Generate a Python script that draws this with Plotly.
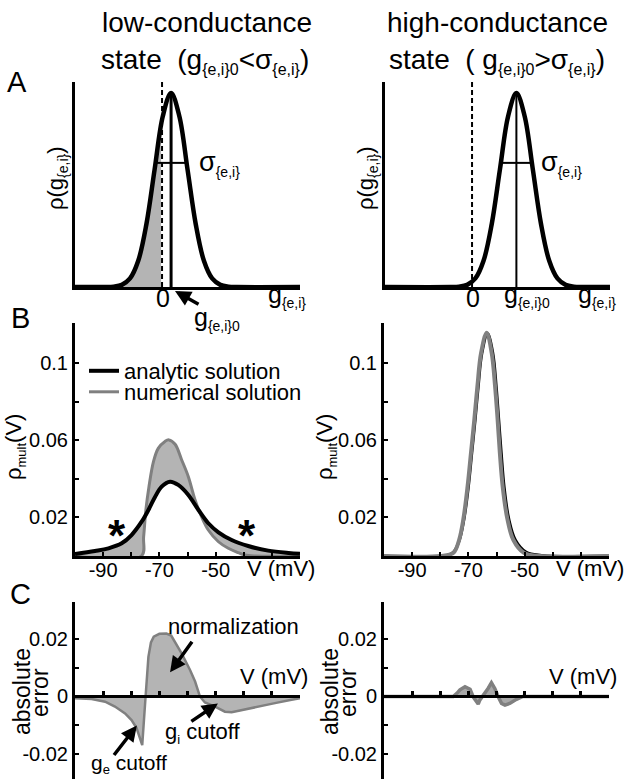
import plotly.graph_objects as go

FONT = "Liberation Sans, Arial, Helvetica, sans-serif"
W, H = 625, 779
GRAY_LINE = "#808080"
GRAY_FILL = "#b4b4b4"

# ---------------- Panel A : schematic conductance distributions ----------------
gA_left = [-5.3, -3.45, -2.95, -2.45, -1.95, -1.45, -0.95, -0.45, 0.05, 0.55,
           1.05, 1.55, 2.05, 2.55, 3.05, 3.55, 4.05, 4.55, 8.4]
gA_right = [-5.3, -1.3, -0.8, -0.3, 0.2, 0.7, 1.2, 1.7, 2.2, 2.7,
            3.2, 3.7, 4.2, 4.7, 5.2, 5.7, 6.2, 6.7, 8.4]
rhoA = [0.0, 0.0, 0.002, 0.011, 0.044, 0.135, 0.325, 0.607, 0.882, 1.0,
        0.882, 0.607, 0.325, 0.135, 0.044, 0.011, 0.002, 0.0, 0.0]
gA_fill = [-5.3, -3.45, -2.95, -2.45, -1.95, -1.45, -0.95, -0.45, 0.0]
rhoA_fill = [0.0, 0.0, 0.002, 0.011, 0.044, 0.135, 0.325, 0.607, 0.86]
g0_left = 0.55
g0_right = 2.7
sigma_half = 0.95
sigma_bar_h = 0.64
A_xrange = [-5.3, 8.4]
A_yrange = [0, 1.057]

# ---------------- Panel B : membrane potential distributions ----------------
V_an_L = [-100, -92.9, -88.1, -83.4, -79.9, -76.3, -73.9, -71.6, -69.2, -66.2,
          -63.3, -59.7, -56.1, -52.6, -49.0, -44.3, -38.4, -31.3, -24.1, -20]
rho_an_L = [0.001, 0.0026, 0.004, 0.0066, 0.0109, 0.0178, 0.0239, 0.0305, 0.036, 0.0386,
            0.0369, 0.0317, 0.0239, 0.017, 0.0123, 0.0083, 0.0052, 0.0028, 0.0016, 0.0012]
V_num_L = [-100, -76.4, -75.6, -74.8, -73.7, -72.1, -70.4, -68.0, -66.6, -64.4,
           -62.1, -59.7, -57.3, -55.0, -52.6, -49.0, -45.5, -41.9, -39.6, -36, -20]
rho_num_L = [0, 0, 0.010, 0.024, 0.036, 0.049, 0.0559, 0.0595, 0.0603, 0.058,
             0.050, 0.0412, 0.0291, 0.0204, 0.0135, 0.0074, 0.004, 0.0017, 0.0005, 0, 0]

V_an_R = [-100, -76, -73.5, -71.7, -70.0, -68.8, -67.6, -66.5, -65.2, -63.2,
          -61.3, -60.1, -59.2, -58.3, -57.3, -55.6, -53.3, -49.5, -44, -20]
rho_an_R = [0, 0.0012, 0.007, 0.018, 0.036, 0.0533, 0.0707, 0.088, 0.1053, 0.1155,
            0.1053, 0.088, 0.0707, 0.0533, 0.036, 0.019, 0.0083, 0.002, 0.0003, 0]
V_num_R = [-100, -80, -75.3, -73.3, -71.8, -70.3, -69.1, -67.9, -66.8, -65.5, -63.5,
           -61.7, -60.5, -59.6, -58.8, -57.8, -56.1, -54.0, -50.3, -45, -20]
rho_num_R = [0, 0, 0.0017, 0.0083, 0.019, 0.036, 0.0533, 0.0707, 0.088, 0.1053, 0.116,
             0.1053, 0.088, 0.0707, 0.0533, 0.036, 0.019, 0.0083, 0.0017, 0, 0]
B_yrange = [0, 0.121]
V_range = [-100, -20]

# ---------------- Panel C : absolute error ----------------
V_err_L = [-100, -94.1, -89.3, -85.8, -82.2, -79.9, -78.1, -76.9, -76.1, -74.9,
           -73.9, -73.0, -72.0, -70.0, -67.5, -65.8, -64.4, -62.1, -59.1, -57.3,
           -55.6, -53.8, -50.2, -46.7, -44.3, -40.7, -34.8, -28.9, -23.0, -20.0]
err_L = [-0.0006, -0.0009, -0.0018, -0.0035, -0.0059, -0.0082, -0.011, -0.0146, -0.0169, 0.0,
         0.0138, 0.0188, 0.0208, 0.0218, 0.0219, 0.0212, 0.019, 0.015, 0.0092, 0.0052,
         0.0, -0.0021, -0.0035, -0.0053, -0.0055, -0.0047, -0.0035, -0.0023, -0.0011, -0.0006]
V_err_R = [-100, -76, -75.4, -74.0, -73.0, -71.2, -69.4, -68.3, -67.1, -66.5, -65.9,
           -64.7, -63.0, -61.8, -60.6, -59.4, -58.2, -57.0, -55.3, -52.9, -50.6, -49, -20]
err_R = [0, 0, 0, 0.0012, 0.0023, 0.0034, 0.0025, -0.0001, -0.0018, -0.0026, -0.0012,
         0.0003, 0.0028, 0.0048, 0.0028, -0.0001, -0.0024, -0.003, -0.0024, -0.001, 0, 0, 0]
C_yrange = [-0.0287, 0.03287]

B_yticks = [0.02, 0.04, 0.06, 0.08, 0.1]
B_yticktext = ["0.02", "", "0.06", "", "0.1"]
V_ticks = [-90, -80, -70, -60, -50, -40, -30]
V_ticktext = ["-90", "", "-70", "", "-50", "", ""]
C_yticks = [-0.02, -0.01, 0, 0.01, 0.02]
C_yticktext = ["-0.02", "", "0", "", "0.02"]

# ---------------- layout geometry ----------------
XL = [75 / W, 300 / W]
XR = [384 / W, 609 / W]
XR_A = [385 / W, 610 / W]
DA = [1 - 287 / H, 1 - 82 / H]
DB = [1 - 556 / H, 1 - 323 / H]
DC = [0, 1 - 602 / H]
zero_C = DC[0] + (0 - C_yrange[0]) / (C_yrange[1] - C_yrange[0]) * (DC[1] - DC[0])

fig = go.Figure()


def line(x, y, xa, ya, color="black", width=3, dash=None, shape="linear", **kw):
    fig.add_trace(go.Scatter(x=x, y=y, mode="lines", xaxis=xa, yaxis=ya,
                             line=dict(color=color, width=width, dash=dash, shape=shape),
                             hoverinfo="skip", showlegend=kw.pop("showlegend", False), **kw))


# ----- A left -----
line(gA_fill, rhoA_fill, "x", "y", width=0, shape="spline", fill="tozeroy", fillcolor=GRAY_FILL)
line([0, 0], A_yrange, "x", "y", color="white", width=2)
line([0, 0], A_yrange, "x", "y", width=2, dash="5px,3px")
line([g0_left, g0_left], [0, 1.0], "x", "y", width=3)
line([g0_left - sigma_half, g0_left + sigma_half], [sigma_bar_h, sigma_bar_h], "x", "y", width=2)
line(gA_left, rhoA, "x", "y", width=4.5, shape="spline")
# ----- A right -----
line([0, 0], A_yrange, "x2", "y2", width=2, dash="5px,3px")
line([g0_right, g0_right], [0, 1.0], "x2", "y2", width=2)
line([g0_right - sigma_half, g0_right + sigma_half], [sigma_bar_h, sigma_bar_h], "x2", "y2", width=2)
line(gA_right, rhoA, "x2", "y2", width=4.5, shape="spline")

# ----- B left -----
line(V_an_L, rho_an_L, "x3", "y3", width=0, shape="spline")
line(V_num_L, rho_num_L, "x3", "y3", width=0, shape="spline", fill="tonexty", fillcolor=GRAY_FILL)
line(V_num_L, rho_num_L, "x3", "y3", color=GRAY_LINE, width=3, shape="spline",
     name="numerical solution", showlegend=True, legend="legend2")
line(V_an_L, rho_an_L, "x3", "y3", width=4, shape="spline",
     name="analytic solution", showlegend=True, legend="legend")
# ----- B right -----
line(V_an_R, rho_an_R, "x4", "y4", width=3, shape="spline")
line(V_num_R, rho_num_R, "x4", "y4", color=GRAY_LINE, width=4, shape="spline")

# ----- C -----
line(V_err_L, err_L, "x5", "y5", color=GRAY_LINE, width=2.5, fill="tozeroy", fillcolor=GRAY_FILL)
line(V_err_R, err_R, "x6", "y6", color=GRAY_LINE, width=3.5, fill="tozeroy", fillcolor="#a8a8a8")

tickfont = dict(family=FONT, size=20, color="black")


def axis(domain, rng, anchor, **kw):
    d = dict(domain=domain, range=rng, anchor=anchor, showgrid=False, zeroline=False,
             showline=True, linecolor="black", linewidth=3, ticks="", showticklabels=False,
             automargin=False, fixedrange=True, tickfont=tickfont)
    d.update(kw)
    return d


vt = dict(tickmode="array", tickvals=V_ticks, ticktext=V_ticktext, ticks="inside",
          ticklen=4, tickwidth=2, tickcolor="black", ticklabelstandoff=-6)
yt = dict(showticklabels=True, tickmode="array", ticks="inside", ticklen=4, tickwidth=2,
          tickcolor="black")
fig.update_layout(
    xaxis=axis(XL, A_xrange, "y"), yaxis=axis(DA, A_yrange, "x"),
    xaxis2=axis(XR_A, A_xrange, "y2"), yaxis2=axis(DA, A_yrange, "x2"),
    xaxis3=axis(XL, V_range, "y3", showticklabels=True, **vt),
    yaxis3=axis(DB, B_yrange, "x3", tickvals=B_yticks, ticktext=B_yticktext, **yt),
    xaxis4=axis(XR, V_range, "y4", showticklabels=True, **vt),
    yaxis4=axis(DB, B_yrange, "x4", tickvals=B_yticks, ticktext=B_yticktext, **yt),
    xaxis5=axis(XL, V_range, "free", position=zero_C, tickmode="array", tickvals=V_ticks,
                ticks="inside", ticklen=4, tickwidth=3, tickcolor="black"),
    yaxis5=axis(DC, C_yrange, "x5", tickvals=C_yticks, ticktext=C_yticktext, **yt),
    xaxis6=axis(XR, V_range, "free", position=zero_C, tickmode="array", tickvals=V_ticks,
                ticks="inside", ticklen=4, tickwidth=3, tickcolor="black"),
    yaxis6=axis(DC, C_yrange, "x6", tickvals=C_yticks, ticktext=C_yticktext, **yt),
)


def sub(t, size):
    return f"<sub><span style='font-size:{size}px'>{t}</span></sub>"


anns = []


def ann(text, x, y, xref="paper", yref="paper", size=20, xanchor="center", yanchor="middle",
        angle=0, **kw):
    """x/y: data values when a data axis is referenced, otherwise pixels."""
    if xref == "paper":
        x = x / W
    if yref == "paper":
        y = 1 - y / H
    anns.append(dict(text=text, x=x, y=y, xref=xref, yref=yref, showarrow=False,
                     xanchor=xanchor, yanchor=yanchor, textangle=angle,
                     font=dict(family=FONT, size=size, color="black"), **kw))


def arrow(x, y, ax, ay, xref, yref):
    if yref == "paper":
        y = 1 - y / H
    anns.append(dict(text="", x=x, y=y, xref=xref, yref=yref, ax=ax, ay=ay, showarrow=True,
                     arrowhead=2, arrowsize=0.9, arrowwidth=3.5, arrowcolor="black", standoff=0))


gsub = "g" + sub("{e,i}", 14)
# titles
ann("low-conductance", 207, 23, size=28)
ann("state\u00a0\u00a0(g" + sub("{e,i}0", 16) + "&lt;σ" + sub("{e,i}", 16) + ")", 205, 61, size=28)
ann("high-conductance", 497, 22, size=28)
ann("state\u00a0\u00a0(\u00a0g" + sub("{e,i}0", 16) + "&gt;σ" + sub("{e,i}", 16) + ")", 497, 61, size=28)
# panel letters
ann("A", 17, 82, size=29)
ann("B", 20, 318, size=29)
ann("C", 20, 594, size=29)
# panel A labels (x in data units, y in pixels)
for xl, xr in [(57, "x"), (367, "x2")]:
    ann("ρ(" + gsub + ")", xl, 178, size=22, angle=-90)
    ann("0", 0.05, 298, xref=xr, size=25)
    ann(gsub, 6.3, 296, xref=xr, size=25, xanchor="left")
ann("σ" + sub("{e,i}", 14), 2.1, 163, xref="x", size=27, xanchor="left")
ann("σ" + sub("{e,i}", 14), 4.1, 163, xref="x2", size=27, xanchor="left")
ann("g" + sub("{e,i}0", 14), 1.8, 296, xref="x2", size=25, xanchor="left")
ann("g" + sub("{e,i}0", 14), 1.85, 318, xref="x", size=25, xanchor="left")
arrow(0.79, 291, 25, 14, "x", "paper")
# panel B labels
for xl, xr in [(15, "x3"), (326, "x4")]:
    ann("ρ" + sub("mult", 13) + "(V)", xl, 447, size=22, angle=-90)
    ann("V (mV)", -26.6, 568, xref=xr, size=22)
ann("<b>*</b>", -85.1, 0.0104, xref="x3", yref="y3", size=44)
ann("<b>*</b>", -38.7, 0.0104, xref="x3", yref="y3", size=44)
# panel C labels
for dx, xr, yr in [(0, "x5", "y5"), (308, "x6", "y6")]:
    ann("absolute", 22 + dx, 692, size=23, angle=-90)
    ann("error", 40 + dx, 693, size=23, angle=-90)
    ann("V (mV)", -29.2, 0.0068, xref=xr, yref=yr, size=22)
ann("normalization", -43.5, 0.0243, xref="x5", yref="y5", size=22)
arrow(-66.2, 0.0084, 23, -32, "x5", "y5")
ann("g" + sub("i", 13) + " cutoff", -54.5, -0.0127, xref="x5", yref="y5", size=22)
arrow(-49.2, -0.0024, -28, 19, "x5", "y5")
ann("g" + sub("e", 13) + " cutoff", -80.8, -0.0236, xref="x5", yref="y5", size=21)
arrow(-78.0, -0.0101, -24, 31, "x5", "y5")

legfont = dict(family=FONT, size=22, color="black")
fig.update_layout(
    annotations=anns,
    width=W, height=H, margin=dict(l=0, r=0, t=0, b=0),
    plot_bgcolor="white", paper_bgcolor="white",
    font=dict(family=FONT, color="black"),
    legend=dict(x=84 / W, y=1 - 350 / H, xanchor="left", yanchor="top", font=legfont,
                bgcolor="rgba(0,0,0,0)", borderwidth=0),
    legend2=dict(x=84 / W, y=1 - 371 / H, xanchor="left", yanchor="top", font=legfont,
                 bgcolor="rgba(0,0,0,0)", borderwidth=0),
)

fig.write_html("out.html")
